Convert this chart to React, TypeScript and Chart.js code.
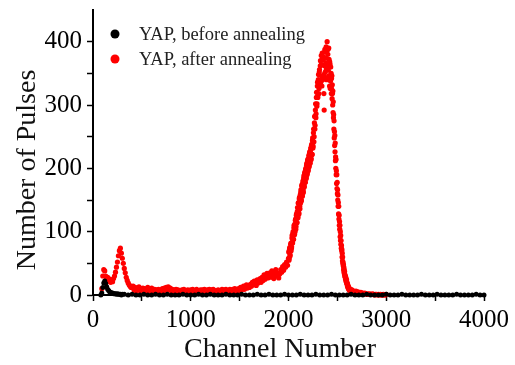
import React, { useEffect, useRef } from "react";
import { Chart, registerables } from "chart.js";

Chart.register(...registerables);

// ---- data ----
// "after annealing": low channels, step 10 (90 .. 2000)
const redLowStart = 90;
const redLowStep = 10;
const redLowCounts = [
  10, 30, 40, 38, 30, 25, 28, 22, 25, 20,
  23, 21, 26, 30, 36, 44, 52, 62, 70, 74,
  66, 58, 50, 42, 35, 28, 23, 19, 16, 14,
  12, 13,
  // 410-500
  14, 8, 12, 6, 11, 9, 13, 7, 10, 8,
  // 510-600
  11, 6, 10, 7, 9, 12, 6, 9, 7, 11,
  // 610-700
  7, 4, 9, 5, 8, 4, 9, 6, 4, 8,
  // 710-800
  10, 6, 11, 8, 12, 9, 13, 8, 11, 7,
  // 810-900
  9, 5, 8, 6, 9, 4, 8, 5, 7, 4,
  // 910-1000
  8, 4, 9, 5, 7, 3, 8, 6, 4, 8,
  // 1010-1100
  5, 9, 4, 7, 5, 9, 3, 7, 5, 8,
  // 1110-1200
  4, 8, 5, 9, 6, 3, 8, 5, 9, 4,
  // 1210-1300
  8, 5, 9, 4, 7, 5, 3, 8, 5, 7,
  // 1310-1400
  4, 9, 5, 8, 4, 9, 4, 7, 5, 9,
  // 1410-1500
  7, 4, 9, 6, 10, 5, 9, 6, 10, 7,
  // 1510-1600
  12, 8, 10, 14, 9, 13, 16, 11, 15, 12,
  // 1610-1700
  17, 14, 20, 16, 22, 18, 15, 24, 19, 22,
  // 1710-1800
  26, 20, 28, 23, 32, 25, 30, 34, 27, 31,
  // 1810-1900
  35, 28, 38, 31, 26, 36, 40, 30, 34, 27,
  // 1910-2000
  33, 40, 36, 45, 39, 48, 44, 52, 47, 58,
];

// rising flank and top of the main peak, step 5 (2005 .. 2430)
const redRiseStart = 2005;
const redRiseStep = 5;
const redRiseCounts = [
  55, 72, 64, 70, 82, 74, 90, 84, 97, 88,
  106, 95, 112, 118, 104, 126, 115, 132, 124, 145,
  130, 152, 140, 158, 162, 148, 172, 158, 176, 165,
  184, 170, 192, 178, 198, 186, 205, 190, 212, 198,
  215, 202, 224, 210, 228, 216, 236, 222, 244, 232,
  256, 242, 272, 262, 292, 280, 312, 298, 330, 312,
  340, 318, 352, 330, 362, 336, 378, 345, 382, 340,
  372, 348, 292, 384, 352, 366, 392, 340, 400, 358,
  388, 346, 372, 330, 364, 338,
];

// second set of channels on the same flank, step 5 (2002 .. 2427)
const redRiseBStart = 2002;
const redRiseBStep = 5;
const redRiseBCounts = [
  68, 58, 75, 62, 80, 70, 76, 94, 82, 100,
  88, 110, 96, 100, 120, 108, 128, 114, 138, 122,
  146, 128, 154, 136, 145, 166, 150, 174, 156, 180,
  162, 188, 172, 194, 178, 200, 184, 208, 192, 214,
  196, 220, 204, 226, 208, 232, 214, 238, 222, 248,
  235, 262, 250, 282, 268, 302, 286, 320, 302, 336,
  316, 348, 326, 356, 332, 370, 338, 364, 330, 372,
  345, 376, 318, 362, 388, 342, 374, 356, 386, 365,
  380, 355, 390, 342, 368, 326,
];

// falling flank, step 2 (2432 .. 2660)
const redFallStart = 2432;
const redFallStep = 2;
const redFallCounts = [
  360, 328, 350, 318, 342,
  325, 346, 310, 332, 318,
  300, 322, 288, 305, 280,
  285, 262, 275, 248, 258,
  236, 252, 226, 240, 212,
  218, 200, 214, 190, 196,
  176, 190, 168, 178, 160,
  166, 150, 158, 140, 146,
  128, 140, 120, 126, 110,
  116, 104, 110, 92, 100,
  86, 94, 80, 86, 74,
  78, 70, 72, 60, 66,
  54, 60, 50, 52, 46,
  48, 40, 44, 36, 40,
  33, 37, 30, 32, 28,
  30, 25, 28, 22, 25,
  21, 24, 18, 20, 17,
  18, 14, 16, 12, 14,
  11, 13, 9, 11, 10,
  8, 10, 7, 9, 8,
  7, 9, 6, 8, 6,
  7, 5, 6, 8, 5,
  6, 4, 5, 7, 4,
];

// tail, step 10 (2670 .. 3000)
const redTailStart = 2670;
const redTailStep = 10;
const redTailCounts = [
  5, 4, 6, 3, 5, 4, 3, 4, 2, 3,
  2, 3, 2, 1, 2, 1, 2, 1, 1, 2,
  1, 0, 1, 1, 0, 1, 0, 1, 0, 0,
  1, 0, 0, 1,
];

// "before annealing"
const blackPeakStart = 80;
const blackPeakStep = 10;
const blackPeakCounts = [
  0, 3, 12, 19, 22, 18, 13, 9, 7, 5, 4, 3, 3, 2, 2, 2, 1, 2, 1, 1, 1, 0, 1,
];

const blackTailStart = 320;
const blackTailStep = 40;
const blackTailCounts = [
  1, 0, 1, 0, 0, 1, 0, 0, 1, 0,
  0, 1, 0, 0, 0, 1, 0, 0, 0, 1,
  0, 0, 1, 0, 0, 0, 1, 0, 0, 0,
  1, 0, 0, 0, 1, 0, 0, 1, 0, 0,
  0, 1, 0, 0, 0, 1, 0, 0, 0, 1,
  0, 0, 0, 1, 0, 0, 0, 0, 1, 0,
  0, 0, 1, 0, 0, 0, 0, 1, 0, 0,
  0, 1, 0, 0, 0, 0, 1, 0, 0, 0,
  1, 0, 0, 0, 0, 1, 0, 0, 0, 0,
  1, 0, 0,
];

const seriesLabels = ["YAP, before annealing", "YAP, after annealing"];
const seriesColors = ["#000000", "#ff0000"];
const xTitle = "Channel Number";
const yTitle = "Number of Pulses";
const xRange = [0, 4000];
const yRange = [0, 450];
const xLabelStep = 1000;
const yLabelStep = 100;
const yLabelMax = 400;

const FONT = '"Liberation Serif", "Times New Roman", serif';

function toPoints(start: number, step: number, counts: number[]) {
  return counts.map((c, i) => ({ x: start + i * step, y: c }));
}

const overlayPlugin = {
  id: "overlayText",
  afterDraw(chart: any) {
    const { ctx, chartArea } = chart;
    ctx.save();
    // legend
    seriesLabels.forEach((t, i) => {
      const cy = chartArea.top + 24 + i * 25;
      ctx.beginPath();
      ctx.arc(chartArea.left + 22, cy, 4.5, 0, Math.PI * 2);
      ctx.fillStyle = seriesColors[i];
      ctx.fill();
      ctx.font = `18.5px ${FONT}`;
      ctx.fillStyle = "#222";
      ctx.textAlign = "left";
      ctx.textBaseline = "middle";
      ctx.fillText(t, chartArea.left + 46, cy + 1);
    });
    // x title
    ctx.font = `28px ${FONT}`;
    ctx.fillStyle = "#111";
    ctx.textAlign = "center";
    ctx.textBaseline = "alphabetic";
    ctx.fillText(xTitle, 280, 357);
    // y title
    ctx.translate(35, 170);
    ctx.rotate(-Math.PI / 2);
    ctx.fillText(yTitle, 0, 0);
    ctx.restore();
  },
};

export default function App() {
  const ref = useRef<HTMLCanvasElement | null>(null);
  useEffect(() => {
    if (!ref.current) return;
    const chart = new Chart(ref.current, {
      type: "scatter",
      data: {
        datasets: [
          {
            label: seriesLabels[0],
            data: [
              ...toPoints(blackPeakStart, blackPeakStep, blackPeakCounts),
              ...toPoints(blackTailStart, blackTailStep, blackTailCounts),
            ],
            backgroundColor: seriesColors[0],
            borderWidth: 0,
            pointRadius: 2.5,
            clip: false,
          } as any,
          {
            label: seriesLabels[1],
            data: [
              ...toPoints(redLowStart, redLowStep, redLowCounts),
              ...toPoints(redRiseStart, redRiseStep, redRiseCounts),
              ...toPoints(redRiseBStart, redRiseBStep, redRiseBCounts),
              ...toPoints(redFallStart, redFallStep, redFallCounts),
              ...toPoints(redTailStart, redTailStep, redTailCounts),
            ],
            backgroundColor: seriesColors[1],
            borderWidth: 0,
            pointRadius: 2.6,
            clip: false,
          } as any,
        ],
      },
      options: {
        responsive: false,
        animation: false,
        events: [],
        layout: { padding: { left: 0, right: 31, top: 10, bottom: 0 } },
        plugins: { legend: { display: false }, tooltip: { enabled: false } },
        scales: {
          x: {
            type: "linear",
            min: xRange[0],
            max: xRange[1],
            border: { display: true, color: "#000", width: 2 },
            grid: {
              drawOnChartArea: false,
              drawTicks: true,
              tickLength: 6,
              tickWidth: 1.5,
              tickColor: "#000",
            },
            ticks: {
              stepSize: 500,
              autoSkip: false,
              maxRotation: 0,
              padding: 4,
              color: "#000",
              font: { family: FONT, size: 25 },
              callback: (v: any) => (Number(v) % xLabelStep === 0 ? String(v) : ""),
            },
            afterFit: (s: any) => {
              s.height = 70;
              s.paddingLeft = 0;
              s.paddingRight = 0;
            },
          },
          y: {
            type: "linear",
            min: yRange[0],
            max: yRange[1],
            border: { display: true, color: "#000", width: 2 },
            grid: {
              drawOnChartArea: false,
              drawTicks: true,
              tickLength: 6,
              tickWidth: 1.5,
              tickColor: (c: any) => (c.tick && c.tick.value > yLabelMax ? "rgba(0,0,0,0)" : "#000"),
            },
            ticks: {
              stepSize: 50,
              autoSkip: false,
              padding: 5,
              color: "#000",
              font: { family: FONT, size: 25 },
              callback: (v: any) =>
                Number(v) % yLabelStep === 0 && Number(v) <= yLabelMax ? String(v) : "",
            },
            afterFit: (s: any) => {
              s.width = 93;
              s.paddingTop = 0;
              s.paddingBottom = 0;
            },
          },
        },
      },
      plugins: [overlayPlugin],
    } as any);
    return () => chart.destroy();
  }, []);
  return (
    <div style={{ position: "fixed", left: 0, top: 0, width: 515, height: 365, background: "#fff" }}>
      <canvas ref={ref} width={515} height={365} />
    </div>
  );
}
